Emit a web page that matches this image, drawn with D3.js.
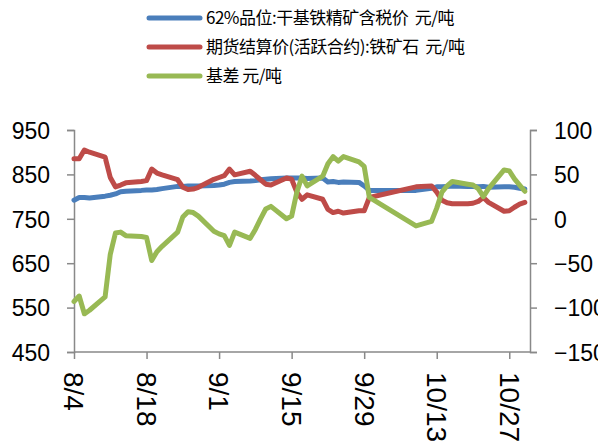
<!DOCTYPE html>
<html>
<head>
<meta charset="utf-8">
<script src="https://cdn.jsdelivr.net/npm/d3@7"></script>
<style>
  body { margin: 0; background: #fff; }
  svg { display: block; }
  .num { font-family: "Liberation Sans", Arial, sans-serif; font-size: 23px; fill: #000; }
  .date { font-family: "Liberation Sans Narrow", "Liberation Sans", sans-serif; font-size: 28px; fill: #000; }
  .legend { font-family: "Noto Sans CJK SC", sans-serif; font-size: 17px; letter-spacing: -0.5px; fill: #000; }
</style>
</head>
<body>
<svg id="chart" width="598" height="443"></svg>
<script>
// trading days, 2020
const dates = [
  "08-04","08-05","08-06","08-07","08-10","08-11","08-12","08-13","08-14",
  "08-17","08-18","08-19","08-20","08-21","08-24","08-25","08-26","08-27","08-28",
  "08-31","09-01","09-02","09-03","09-04","09-07","09-08","09-09","09-10","09-11",
  "09-14","09-15","09-16","09-17","09-18","09-21","09-22","09-23","09-24","09-25",
  "09-28","09-29","09-30","10-09","10-12","10-13","10-14","10-15","10-16",
  "10-19","10-20","10-21","10-22","10-23","10-26","10-27","10-28","10-29","10-30"
];

// 62%品位:干基铁精矿含税价 (left axis)
const spot = [
  792,798,798,797,801,803,806,811,812,
  814,815,815,816,818,823,823,824,824,824,
  825,826,828,832,834,835,836,838,839,840,
  842,842,842,842,841,842,833,834,832,833,
  832,824,814,814,819,822,822,823,824,
  823,823,822,823,821,822,822,821,819,817
];

// 期货结算价(活跃合约):铁矿石 (left axis)
const futures = [
  885,885,905,900,889,843,822,826,831,
  834,836,862,853,849,838,821,816,817,821,
  839,843,847,862,849,857,848,838,828,826,
  842,839,810,794,804,794,771,764,767,763,
  768,768,798,822,824,810,792,786,784,
  784,785,789,798,787,767,768,776,783,787
];

// 基差 (right axis)
const basis = [
  -93,-87,-107,-103,-88,-40,-16,-15,-19,
  -20,-21,-47,-37,-31,-15,2,8,7,3,
  -14,-17,-19,-30,-15,-22,-12,0,11,14,
  0,3,30,48,37,48,62,70,65,70,
  64,59,24,-8,-3,12,30,37,42,
  39,38,34,25,34,55,54,45,38,31
];

const leftTicks  = [450, 550, 650, 750, 850, 950];
const rightTicks = [-150, -100, -50, 0, 50, 100];
const dateTicks  = ["08-04","08-18","09-01","09-15","09-29","10-13","10-27"];
const dateLabels = ["8/4","8/18","9/1","9/15","9/29","10/13","10/27"];

const seriesNames = ["62%品位:干基铁精矿含税价\u00a0\u00a0元/吨", "期货结算价(活跃合约):铁矿石\u00a0\u00a0元/吨", "基差 元/吨"];
const colors = ["#4a7ebb", "#be4b48", "#98b954"];

const parse = s => d3.timeParse("%Y-%m-%d")("2020-" + s);
const svg = d3.select("#chart");
const axisColor = "#898989";

const x  = d3.scaleTime().domain([parse("08-04"), parse("10-31")]).range([74, 530]);
const yL = d3.scaleLinear().domain([450, 950]).range([352, 130]);
const yR = d3.scaleLinear().domain([-150, 100]).range([352, 130]);

// axes
const gL = svg.append("g").attr("transform", "translate(74,0)")
  .call(d3.axisLeft(yL).tickValues(leftTicks).tickSize(7).tickPadding(17));
const gR = svg.append("g").attr("transform", "translate(530,0)")
  .call(d3.axisRight(yR).tickValues(rightTicks).tickSize(7).tickPadding(17));
const gX = svg.append("g").attr("transform", "translate(0,352)")
  .call(d3.axisBottom(x).tickValues(dateTicks.map(parse)).tickSize(7)
    .tickFormat((d, i) => dateLabels[i]));

[gL, gR, gX].forEach(g => {
  g.select(".domain").attr("stroke", axisColor).attr("stroke-width", 1.5);
  g.selectAll(".tick line").attr("stroke", axisColor).attr("stroke-width", 1.5);
});
gX.select(".domain").attr("d", "M74,0H530");
gL.selectAll("text").attr("class", "num").attr("dy", "0.36em");
gR.selectAll("text").attr("class", "num").attr("dy", "0.36em");
gX.selectAll("text").attr("class", "date")
  .attr("text-anchor", "start")
  .attr("transform", "rotate(90)")
  .attr("x", 20).attr("y", 0).attr("dy", "0.36em");

// lines
const rows = dates.map((d, i) => ({ date: parse(d), spot: spot[i], futures: futures[i], basis: basis[i] }));
const lineDefs = [
  { key: "spot",    scale: yL, color: colors[0] },
  { key: "futures", scale: yL, color: colors[1] },
  { key: "basis",   scale: yR, color: colors[2] }
];
lineDefs.forEach(def => {
  svg.append("path")
    .datum(rows)
    .attr("fill", "none")
    .attr("stroke", def.color)
    .attr("stroke-width", 5)
    .attr("stroke-linejoin", "round")
    .attr("stroke-linecap", "round")
    .attr("d", d3.line().x(d => x(d.date)).y(d => def.scale(d[def.key])));
});

// legend
const legend = svg.append("g");
seriesNames.forEach((name, i) => {
  const yy = 18 + i * 29;
  legend.append("line")
    .attr("x1", 149).attr("x2", 200).attr("y1", yy).attr("y2", yy)
    .attr("stroke", colors[i]).attr("stroke-width", 5).attr("stroke-linecap", "round");
  legend.append("text").attr("class", "legend")
    .attr("x", 206).attr("y", yy).attr("dy", "0.36em")
    .text(name);
});
</script>
</body>
</html>
